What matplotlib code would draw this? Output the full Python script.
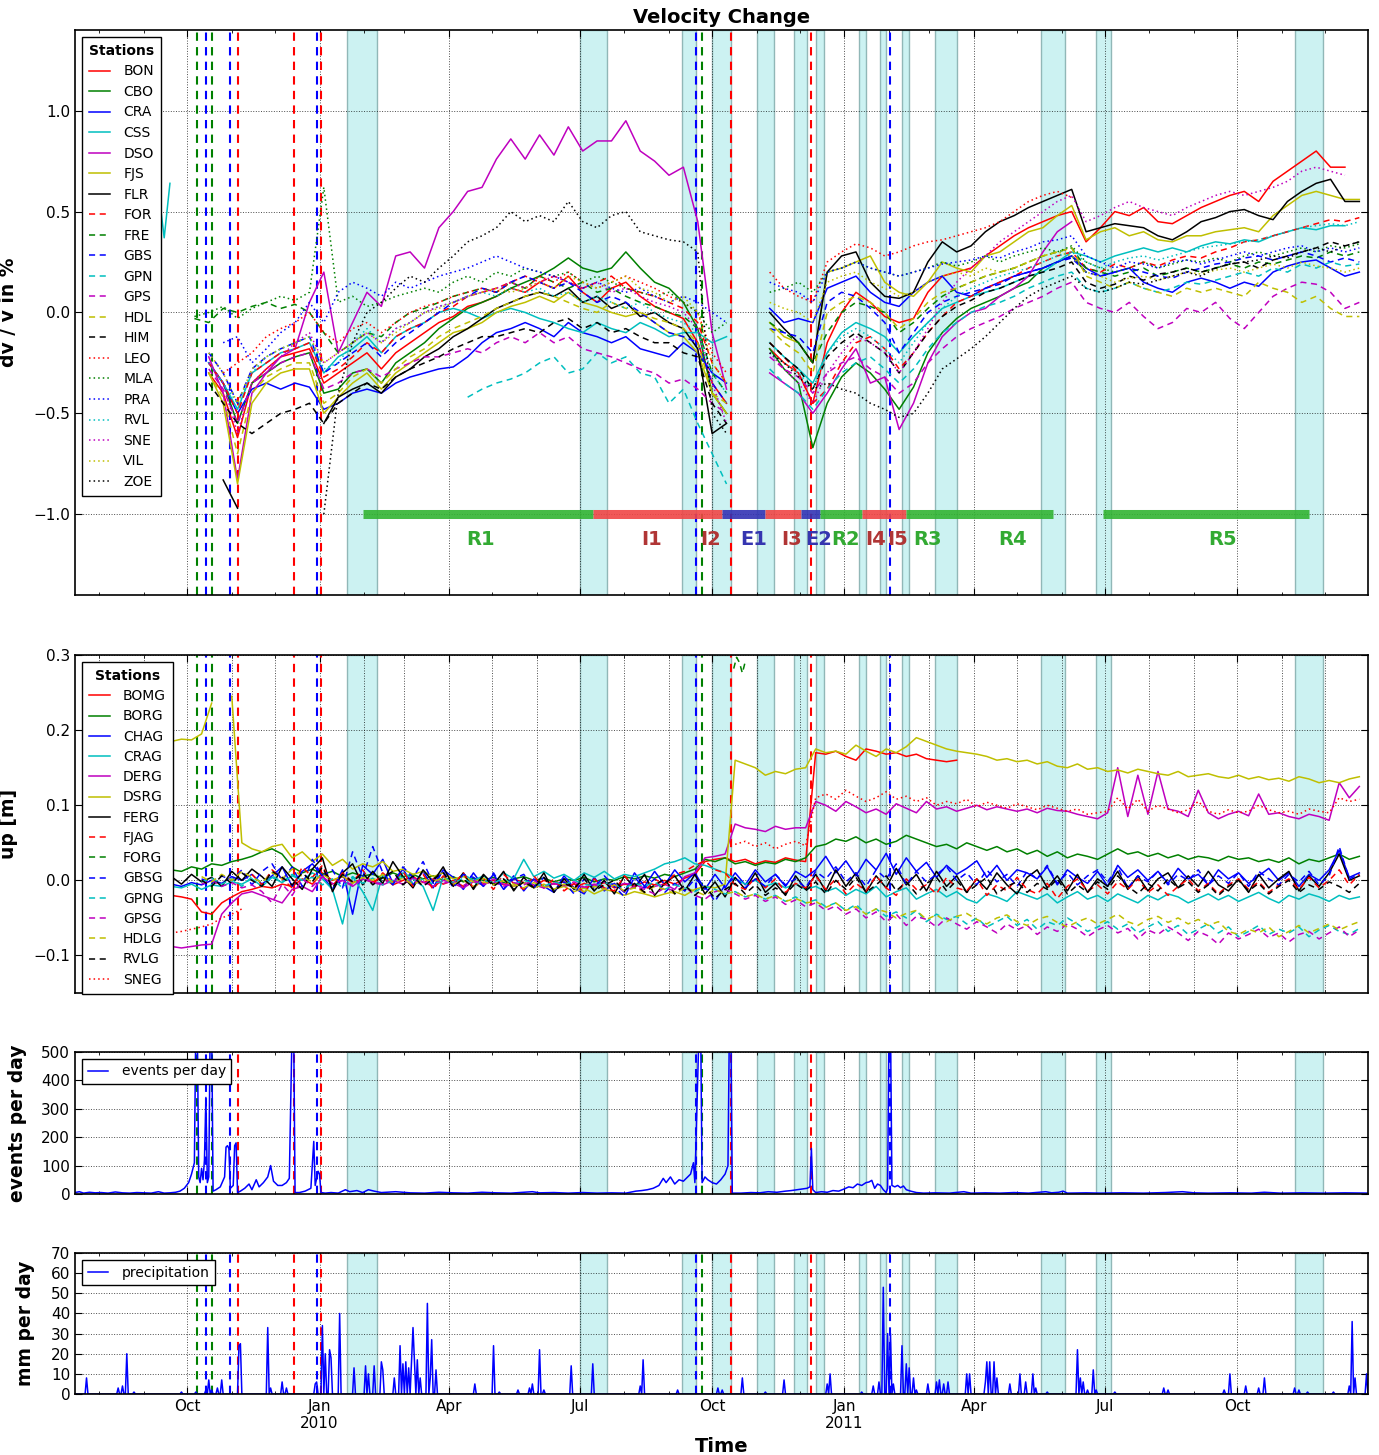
import numpy as np
import matplotlib
matplotlib.use("Agg")
import matplotlib.pyplot as plt
import matplotlib.dates as mdates
from matplotlib.ticker import FuncFormatter

nan = np.nan
t0 = np.datetime64("2009-10-01")

# sampling grids, in days after 2009-10-01
dv_days = np.arange(-15, 825, 10)
gps_days = np.arange(-11, 820, 7)

# ---------------- dv/v (units of 0.01 %) ----------------
bon = [nan, nan, nan, -30, -40, -62, -35, -28, -22, -20,
       -18, -35, -30, -25, -20, -28, -20, -15, -10, -5,
       -2, 3, 5, 8, 12, 10, 15, 12, 18, 10,
       5, 12, 15, 8, 3, 0, -3, -15, -35, -45,
       nan, nan, -18, -25, -30, -45, -15, 0, 10, 5,
       -2, -5, -3, 10, 18, 20, 22, 28, 33, 38,
       42, 45, 48, 50, 35, 42, 50, 48, 52, 45,
       44, 48, 52, 55, 58, 60, 55, 65, 70, 75,
       80, 72, 72, nan]
cbo = [nan, nan, nan, -25, -35, -55, -35, -30, -25, -22,
       -20, -40, -38, -30, -28, -35, -25, -20, -15, -8,
       -3, 2, 5, 8, 12, 15, 18, 22, 27, 22,
       20, 22, 30, 22, 15, 12, 5, -8, -40, -50,
       nan, nan, -18, -28, -35, -67, -45, -32, -25, -30,
       -38, -48, -37, -20, -10, -3, 2, 5, 8, 12,
       15, 22, 25, 28, 20]
cra = [3, nan, nan, -25, -35, -50, -38, -35, -38, -35,
       -37, -48, -45, -40, -38, -40, -35, -32, -30, -28,
       -27, -22, -15, -10, -8, -5, -8, -12, -5, -10,
       -12, -15, -12, -18, -20, -22, -15, -20, -30, -35,
       nan, nan, 2, -5, -3, -5, 12, 15, 18, 10,
       5, 3, 10, 15, 18, 10, 8, 12, 15, 18,
       20, 22, 25, 28, 22, 18, 20, 22, 15, 12,
       10, 15, 17, 15, 12, 15, 13, 20, 23, 25,
       26, 22, 18, 20]
css = [nan, nan, nan, -25, -35, -48, -30, -25, -20, -18,
       -15, -30, -22, -18, -12, -20, -12, -8, -5, 0,
       2, 0, -3, 0, 2, 0, -3, -5, -8, -10,
       -5, -8, -10, -5, -8, -12, -10, -10, -15, -12,
       nan, nan, -15, -22, -28, -35, -20, -10, -5, -8,
       -12, -20, -12, -5, 2, 5, 8, 10, 12, 15,
       18, 20, 25, 30, 28, 25, 28, 30, 32, 30,
       32, 30, 33, 35, 34, 36, 35, 38, 40, 42,
       41, 43, 43, nan]
css_early_days = [-19, -16, -12]
css_early = [55, 37, 64]
dso = [-5, nan, nan, -22, -40, -83, -40, -30, -22, -18,
       5, 20, -20, -5, 10, 3, 28, 30, 22, 42,
       50, 60, 62, 76, 86, 76, 88, 78, 92, 80,
       85, 85, 95, 80, 75, 68, 72, 45, -10, -38,
       nan, nan, -30, -35, -40, -50, -40, -28, -18, -35,
       -32, -58, -45, -25, -12, -5, 0, 2, 8, 12,
       18, 30, 40, 45]
fjs = [nan, nan, nan, -30, -45, -85, -45, -35, -30, -28,
       -28, -50, -42, -35, -30, -38, -30, -25, -20, -15,
       -10, -8, -5, 0, 3, 5, 8, 5, 10, 5,
       3, 0, -2, 0, -5, -10, -12, -20, -40, -50,
       nan, nan, -5, -12, -15, -25, 20, 22, 25, 28,
       15, 10, 8, 15, 25, 22, 20, 28, 30, 35,
       40, 42, 48, 53, 36, 40, 42, 38, 40, 36,
       35, 38, 38, 40, 41, 42, 40, 48, 53, 58,
       60, 58, 56, 56]
flr = [nan, nan, nan, nan, -83, -97, nan, nan, nan, nan,
       nan, -55, -42, -38, -35, -40, -32, -28, -22, -18,
       -12, -8, -3, 2, 5, 8, 10, 8, 12, 5,
       8, 2, 5, -2, 0, -5, -8, -18, -60, -55,
       nan, nan, 0, -8, -15, -25, 20, 28, 30, 15,
       8, 7, 10, 25, 35, 30, 33, 40, 45, 48,
       52, 55, 58, 61, 40, 42, 44, 43, 42, 38,
       36, 40, 45, 47, 50, 51, 48, 46, 55, 60,
       64, 66, 55, 55]
for_ = [nan, nan, nan, -25, -35, -50, -30, -25, -20, -18,
        -15, -32, -28, -22, -15, -20, -12, -8, -5, 0,
        3, 8, 10, 12, 15, 18, 15, 18, 15, 12,
        15, 18, 12, 10, 8, 5, 2, -5, -25, -35,
        nan, nan, -15, -22, -30, -45, -38, -25, -15, -12,
        -18, -28, -20, -10, -2, 5, 8, 12, 15, 18,
        22, 25, 28, 30, 22, 20, 24, 22, 25, 23,
        26, 28, 27, 30, 32, 35, 36, 38, 40, 42,
        44, 46, 45, 47]
fre = [nan, nan, -3, -5, 2, 0, 3, 5, 2, 4,
       0, -10, -20, -15, -10, -12, -5, 0, 2, 5,
       8, 10, 12, 10, 15, 12, 18, 15, 12, 15,
       10, 12, 8, 5, 3, 0, -2, -8, -30, -40,
       nan, nan, -5, -10, -15, -25, -10, 0, 5, 3,
       0, -10, -5, 2, 8, 12, 15, 18, 20, 22,
       25, 28, 30, 32, 22, 20, 18, 20, 22, 18,
       20, 22, 20, 22, 24, 22, 25, 24, 26, 28,
       27, 30, 28, 30]
gbs = [nan, nan, nan, -20, -30, -45, -28, -22, -18, -15,
       -12, -30, -25, -20, -15, -22, -15, -10, -5, 0,
       5, 8, 12, 10, 15, 18, 15, 12, 15, 10,
       5, 8, 5, 0, -5, -10, -12, -15, -35, -45,
       nan, nan, -8, -10, -12, -20, 5, 10, 8, 2,
       -5, -20, -10, 0, 5, 8, 10, 12, 14, 18,
       20, 22, 25, 27, 20, 18, 20, 22, 20, 18,
       17, 20, 22, 24, 25, 27, 28, 26, 28, 30,
       28, 25, 27, 25]
gpn = [nan] * 21 + [
       -42, -38, -35, -33, -30, -25, -22, -30, -28,
       -20, -25, -22, -30, -32, -45, -38, -55, -70, -85,
       nan, nan, -28, -35, -40, -48, -38, -30, -25, -22,
       -28, -35, -28, -18, -10, -5, 0, 3, 5, 8,
       12, 15, 18, 20, 12, 10, 12, 15, 12, 10,
       12, 15, 14, 16, 18, 20, 18, 22, 20, 24,
       22, 25, 23, 24]
gps = [nan, nan, nan, -28, -38, -55, -35, -30, -25, -22,
       -20, -38, -35, -30, -28, -32, -28, -25, -22, -22,
       -20, -18, -20, -15, -12, -15, -10, -15, -12, -18,
       -20, -22, -25, -28, -30, -35, -33, -38, -45, -50,
       nan, nan, -22, -28, -32, -40, -30, -25, -22, -28,
       -32, -40, -35, -25, -18, -12, -8, -5, -2, 2,
       5, 8, 12, 15, 5, 2, 0, 5, -2, -8,
       -5, 2, 0, 5, -3, -8, 0, 8, 12, 15,
       14, 10, 2, 5]
hdl = [nan, nan, nan, -30, -42, -70, -40, -32, -28, -25,
       -25, -45, -40, -32, -28, -35, -28, -22, -18, -12,
       -8, -5, -2, 2, 5, 8, 10, 8, 5, 2,
       0, 5, 2, 0, -3, -5, -8, -15, -40, -45,
       nan, nan, -8, -15, -20, -30, 0, 5, 8, 5,
       0, -8, -3, 5, 10, 12, 15, 18, 20, 22,
       25, 28, 30, 32, 18, 15, 12, 15, 12, 10,
       8, 12, 10, 12, 10, 8, 15, 12, 10, 5,
       8, 2, -2, -2]
him = [nan, nan, nan, -35, -45, -55, -60, -55, -50, -48,
       -45, -55, -45, -40, -35, -38, -32, -28, -25, -22,
       -18, -15, -12, -12, -10, -8, -10, -5, -3, -8,
       -5, -10, -8, -12, -15, -15, -20, -22, -45, -55,
       nan, nan, -15, -22, -28, -38, -22, -15, -10, -15,
       -20, -30, -20, -10, -2, 3, 6, 10, 12, 15,
       18, 20, 22, 25, 15, 12, 14, 18, 16, 19,
       20, 22, 20, 22, 24, 25, 22, 26, 28, 30,
       32, 35, 33, 35]
leo = [nan, nan, nan, nan, -30, -25, -20, -12, -8, -5,
       0, -10, -15, -8, -5, -10, -5, 0, 3, 5,
       8, 10, 12, 10, 15, 12, 18, 15, 20, 15,
       12, 15, 18, 15, 12, 8, 5, 0, -20, -30,
       nan, nan, 20, 12, 8, 5, 25, 30, 34, 32,
       28, 30, 33, 35, 36, 38, 40, 42, 45, 50,
       55, 58, 60, 57]
mla = [nan, nan, -2, 0, 3, -3, 2, 5, 8, 6,
       10, 62, 5, 8, 3, 5, 8, 10, 12, 10,
       15, 18, 15, 20, 18, 22, 20, 18, 20, 15,
       18, 15, 12, 10, 8, 10, 5, 0, -10, -5,
       nan, nan, 10, 12, 15, 10, 20, 22, 25, 22,
       20, 18, 20, 22, 25, 23, 25, 28, 25, 28,
       30, 32, 30, 33, 25, 22, 20, 22, 25, 22,
       24, 26, 25, 27, 25, 28, 30, 28, 30, 32,
       30, 33, 32, 34]
pra = [nan, nan, nan, nan, -15, -12, -25, -18, -10, -5,
       5, -5, 10, 15, 12, 8, 15, 12, 15, 18,
       20, 22, 25, 28, 25, 22, 20, 18, 15, 12,
       15, 12, 10, 12, 8, 5, 8, 5, 0, -5,
       nan, nan, 15, 12, 10, 5, 20, 22, 25, 22,
       20, 18, 20, 22, 24, 25, 26, 28, 27, 30,
       32, 35, 36, 38, 28, 25, 22, 25, 24, 22,
       25, 26, 24, 26, 28, 30, 28, 30, 32, 33,
       30, 32, 30, 32]
rvl = [nan, nan, nan, -25, -35, -45, -30, -22, -18, -15,
       -12, -28, -25, -15, -8, -15, -8, -5, 0, 3,
       5, 8, 10, 8, 12, 10, 12, 8, 10, 5,
       8, 5, 2, 5, 0, -3, -5, -10, -30, -40,
       nan, nan, -20, -25, -30, -38, -20, -12, -8, -12,
       -18, -25, -15, -5, 2, 8, 12, 15, 18, 20,
       22, 25, 28, 30, 25, 22, 25, 27, 28, 26,
       28, 30, 32, 33, 34, 35, 36, 38, 40, 42,
       43, 44, 43, 45]
sne = [nan, nan, nan, -25, -35, -60, -35, -28, -22, -15,
       -10, -25, -20, -15, -10, -15, -8, -5, 0, 3,
       5, 8, 10, 12, 15, 12, 15, 18, 15, 12,
       15, 10, 12, 8, 5, 3, 0, -8, -35, -55,
       nan, nan, -20, -28, -35, -45, -30, -20, -12, -15,
       -20, -30, -20, -8, 5, 15, 22, 28, 35, 40,
       45, 50, 55, 58, 45, 48, 52, 55, 52, 50,
       48, 52, 55, 58, 60, 58, 60, 62, 65, 70,
       72, 70, 68, nan]
vil = [nan, nan, nan, -20, -30, -45, -28, -22, -18, -15,
       -12, -25, -20, -15, -10, -15, -10, -5, 0, 2,
       5, 8, 10, 12, 10, 12, 15, 12, 18, 15,
       12, 15, 18, 12, 10, 5, 8, 0, -25, -35,
       nan, nan, 5, 2, 0, -5, 15, 18, 20, 15,
       12, 8, 10, 15, 18, 20, 18, 22, 20, 22,
       25, 28, 30, 28, 20, 18, 15, 17, 18, 16,
       18, 20, 19, 21, 22, 20, 22, 24, 22, 25,
       23, 22, 20, 22]
zoe = [nan] * 11 + [
       -100, -40, -15, 0, 5, 12, 18, 15, 22,
       28, 35, 38, 42, 50, 45, 48, 45, 55, 45,
       42, 48, 50, 40, 38, 36, 35, 30, -50, -60,
       nan, nan, -20, -25, -32, -38, -35, -38, -40, -45,
       -48, -52, -50, -40, -28, -23, -18, -12, -5, 2,
       8, 12, 15, 18, 12, 10, 12, 15, 14, 16,
       18, 20, 18, 22, 24, 25, 26, 28, 27, 30,
       32, 30, 33, 35]

dv_names = ["BON", "CBO", "CRA", "CSS", "DSO", "FJS", "FLR",
            "FOR", "FRE", "GBS", "GPN", "GPS", "HDL", "HIM",
            "LEO", "MLA", "PRA", "RVL", "SNE", "VIL", "ZOE"]
dv_data = [bon, cbo, cra, css, dso, fjs, flr,
           for_, fre, gbs, gpn, gps, hdl, him,
           leo, mla, pra, rvl, sne, vil, zoe]

# ---------------- GPS vertical (units of mm) ----------------
bomg = [-20, -22, -25, -42, -45, -30, -22, -15, -12, -8,
        -10, -5, -8, 2, -5, 10, 0, 5, -3, 2,
        -2, 4, -6, 0, 5, -3, 2, -5, 0, -8,
        3, -4, 0, -6, 2, -3, -8, 0, -5, -2,
        -10, -4, -8, -3, -10, -5, -8, -2, -6, 0,
        -5, 3, 8, 25, 28, 30, 25, 28, 22, 26,
        24, 30, 27, 25, 170, 168, 172, 165, 160, 175,
        172, 168, 170, 165, 168, 162, 160, 158, 160]
borg = [14, 12, 18, 15, 22, 20, 25, 28, 32, 38,
        42, 35, 18, 10, 15, 8, 12, 5, 10, 6,
        8, 3, 10, 5, 8, 2, 6, 0, 5, -2,
        3, 0, 4, -3, 2, 5, 0, 3, -2, 2,
        0, 4, -2, 2, 0, 5, 2, 6, 3, 8,
        5, 10, 15, 28, 25, 30, 22, 25, 20, 24,
        22, 28, 25, 30, 45, 48, 55, 52, 58, 50,
        55, 48, 52, 60, 55, 50, 45, 48, 42, 50,
        45, 40, 45, 38, 42, 35, 40, 32, 38, 30,
        35, 32, 28, 35, 42, 35, 38, 32, 36, 30,
        34, 28, 32, 30, 26, 32, 28, 30, 25, 28,
        24, 30, 22, 28, 25, 30, 35, 28, 32]
chag = [-5, -8, -3, -6, 0, -4, 5, 0, 8, -5,
        6, 18, -8, 12, 22, 6, -12, 14, -45, 20,
        8, 28, -4, 15, -6, 12, -10, 14, 4, -12,
        10, -8, 8, -12, 6, -14, 2, -8, -16, 6,
        -10, -18, 4, -14, -4, -16, 10, -8, 12, -6,
        14, -2, 10, -12, 8, -10, 10, -6, 14, -2,
        8, -8, 12, 4, 14, 32, 10, 26, 6, 28,
        14, 36, 8, 30, 12, 24, 4, 20, 8, 16,
        26, 4, 20, 0, 14, 10, 2, 18, -6, 14,
        4, -4, 12, -8, 20, 4, 14, 0, 12, -4,
        16, 2, 8, -6, 14, 2, 10, -4, 6, 16,
        0, 10, -8, 8, 0, 14, 40, 4, 10]
crag = [-8, -10, -5, -12, -6, -8, -2, -5, 2, -8,
        4, -3, 6, 0, 10, 2, -12, -58, 5, -15,
        -40, 8, -5, 10, 2, -8, -40, 5, -3, 8,
        0, 6, -4, 10, 2, 28, 5, 12, 3, 8,
        0, 10, 4, 12, 2, 8, 5, 10, 15, 22,
        25, 30, 22, 20, 15, 10, 2, -5, 0, -8,
        -3, -10, -5, -12, -8, -15, -10, -20, -12, -18,
        -8, -22, -15, -10, -25, -18, -12, -22, -15, -25,
        -30, -18, -22, -28, -15, -20, -25, -18, -30, -22,
        -15, -25, -20, -28, -18, -24, -30, -20, -26, -18,
        -22, -30, -24, -18, -26, -20, -28, -22, -16, -24,
        -30, -20, -25, -18, -22, -28, -20, -25, -22]
derg = [-88, -90, -88, -86, -85, -45, -30, -18, -15, -20,
        -25, -30, -12, -8, -15, 5, -5, 0, -8, 2,
        -3, -6, 0, -5, 3, -2, -8, 0, -4, -10,
        -2, -6, 2, -5, -8, -3, -6, -10, -4, -8,
        -5, -10, -6, -2, -8, -4, -6, -10, -8, -5,
        -12, 5, 10, 30, 32, 35, 75, 70, 68, 65,
        72, 68, 70, 70, 105, 100, 92, 105, 98, 90,
        95, 88, 102, 96, 90, 105, 95, 98, 92, 96,
        100, 94, 98, 95, 92, 95, 90, 96, 93, 92,
        88, 85, 82, 90, 150, 85, 140, 88, 145, 95,
        92, 85, 120, 90, 82, 88, 92, 86, 115, 88,
        90, 85, 82, 88, 85, 80, 130, 110, 125]
dsrg = [185, 188, 187, 195, 236, nan, 245, 50, 42, 38,
        45, 48, 30, 38, 25, 35, 20, 28, 15, 22,
        18, 25, 12, 15, 8, 12, 5, 10, 2, 5,
        -2, 3, -5, 0, -8, -3, -10, -5, -12, -8,
        -15, -10, -18, -12, -15, -20, -15, -18, -22, -18,
        -15, -20, -12, -8, -10, -5, 160, 155, 150, 140,
        145, 142, 148, 150, 175, 170, 172, 168, 180, 172,
        165, 175, 170, 178, 190, 185, 180, 175, 172, 170,
        168, 165, 160, 162, 158, 160, 155, 158, 152, 150,
        155, 148, 150, 145, 147, 143, 148, 145, 142, 140,
        145, 138, 140, 142, 138, 136, 140, 135, 138, 134,
        136, 132, 138, 135, 130, 133, 130, 135, 138]
ferg = [5, -5, 8, -2, 4, -8, 12, 0, 15, 5,
        -8, 18, 2, -12, 15, 30, -15, 10, 22, -6,
        12, -4, 25, 5, -10, 14, -2, 18, -8, 10,
        -12, 8, -6, 12, -14, 4, -10, 10, -16, 2,
        -12, 8, -14, 0, -18, 6, -10, 8, -20, -4,
        6, -14, 8, -18, -2, -22, 4, -12, 10, -16,
        -4, -20, 6, -12, 8, -14, 14, -8, 10, -16,
        6, -10, 16, -6, 8, -14, 12, -8, 6, -16,
        2, -12, 10, -6, -18, 4, 14, -10, 6, -14,
        8, -16, 2, -8, 12, -12, 6, -14, 2, 10,
        -10, 6, -8, 12, -6, -14, 2, -16, 8, -10,
        2, 12, -14, 6, -8, 10, 35, 0, 6]
fjag = [nan] * 8 + [
        8, -6,
        14, 2, -10, 18, 4, 20, -8, 10, -2, 14,
        -6, 10, -2, 12, -8, 8, -12, 6, -6, 10,
        -10, 2, -12, 8, -4, -12, 6, -10, 2, -14,
        -4, -16, 2, -10, -14, 6, -8, -16, 2, -6,
        8, 12, 20, 26, 14, 10, -6, -12, 4, -10,
        2, -16, -4, -10, 6, -12, 2, -18, -4, -14,
        6, -10, -20, 2, -12, -6, -18, 4, -10, -14,
        2, -20, -6, -14, 4, -12, -18, -4, -24, -8,
        2, -14, -6, -18, -2, -12, 2, -16, -6, -20,
        -8, 2, -14, -4, -18, -6, 2, -12, -2, -16,
        -6, 2, -12, 4, -10, 0, 14, -6, 8]
forg_days = [380, 382, 384, 386, 388]
forg = [282, 297, 290, 276, 291]
gbsg = [nan] * 3 + [
        2, -4, 6, 0, 14, -6, 12,
        22, 0, 18, -8, 28, 6, 14, -10, 38, 4,
        45, 10, -6, 18, 4, 25, -4, 12, -10, 8,
        4, -8, 10, -12, 2, 8, -10, 4, -14, -2,
        -18, 2, -10, 6, -8, -22, 4, -10, 2, -16,
        -4, -14, 2, -8, -28, -6, 4, -10, 2, -8,
        8, -6, 2, -10, 12, 2, 18, -2, 10, -8,
        14, 2, 22, -6, 12, -2, 8, 18, 0, 10,
        -6, 14, -2, 8, -8, 12, 2, 20, -4, 10,
        -6, 6, 14, -2, 18, -10, 6, -2, 12, -6,
        8, 0, 14, -6, 6, -4, 10, -8, 12, 2,
        -6, 8, -2, 12, -6, 6, 45, 2, 8]
gpng = [nan] * 3 + [
        -2, 3, -5, 2, -8, 5, -3,
        6, -2, 8, 0, 4, -6, 2, -10, 5, -4,
        3, -6, 0, 4, -3, 2, -5, 0, -4, 3,
        -6, 0, -3, 2, -5, 0, -4, -8, -2, -6,
        0, -5, -8, -3, -6, -10, -4, -8, -2, -12,
        -6, -10, -15, -8, -12, -18, -15, -22, -18, -25,
        -20, -28, -22, -30, -26, -35, -30, -40, -32, -45,
        -38, -48, -42, -50, -40, -55, -45, -52, -48, -58,
        -50, -62, -55, -48, -60, -52, -65, -55, -60, -50,
        -58, -68, -62, -55, -65, -58, -70, -62, -55, -68,
        -60, -72, -65, -58, -70, -62, -75, -68, -60, -72,
        -65, -70, -62, -75, -66, -60, -68, -72, -64]
gpsg = [nan] * 3 + [
        -5, 0, -8, -3, -10, -6, -15,
        -30, -5, -20, 2, -8, 5, -4, 0, -6, 3,
        -2, -5, 4, -3, 0, -6, 2, -4, -1, -7,
        0, -5, -2, -8, -3, -6, 0, -10, -4, -7,
        -2, -9, -5, -12, -6, -15, -8, -12, -18, -10,
        -14, -8, -20, -25, -15, -12, -18, -25, -20, -28,
        -22, -32, -26, -35, -30, -40, -34, -45, -38, -50,
        -42, -55, -45, -60, -48, -52, -62, -50, -58, -65,
        -55, -62, -70, -58, -66, -60, -72, -62, -68, -58,
        -65, -75, -66, -60, -70, -64, -78, -66, -72, -62,
        -70, -80, -68, -74, -85, -70, -78, -72, -65, -76,
        -70, -82, -72, -68, -78, -70, -62, -75, -66]
hdlg = [nan] * 3 + [
        5, -2, 8, 0, 12, 4, -3,
        10, 2, 15, 5, -2, 8, 0, 6, -4, 4,
        0, 8, -3, 3, -6, 2, -2, 4, -5, 0,
        -8, -2, -6, 0, -5, -10, -3, -8, -12, -5,
        -10, -15, -8, -12, -6, -14, -10, -16, -8, -12,
        -18, -10, -14, -20, -12, -18, -15, -22, -18, -25,
        -20, -28, -24, -30, -28, -36, -30, -40, -35, -45,
        -38, -42, -50, -44, -40, -52, -46, -55, -48, -44,
        -52, -58, -50, -46, -55, -60, -52, -48, -56, -62,
        -55, -50, -58, -52, -45, -55, -60, -52, -48, -56,
        -50, -58, -52, -60, -55, -68, -72, -65, -70, -62,
        -75, -68, -60, -70, -64, -58, -66, -60, -55]
rvlg = [nan] * 3 + [
        0, -8, 6, -4, 10, 0, -8,
        12, 4, -6, 10, -2, 18, -10, 8, -2, 10,
        -6, 4, 12, -6, 6, -8, 2, 10, -8, 2,
        -10, 6, -8, 2, -12, -2, -10, 4, -14, -4,
        -10, 2, -14, -6, 0, -14, -4, -16, -6, 2,
        -18, -6, -20, -8, -24, -12, -4, -18, -6, -20,
        -10, -18, -4, -14, -2, -18, 0, -12, 4, -16,
        -6, 6, -14, -2, -18, -4, 4, -14, 0, -16,
        -6, 4, -18, -8, -2, -16, -4, -12, 2, -18,
        -6, -16, -2, -12, 6, -8, -18, -4, -14, 2,
        -10, -2, -16, -6, -20, -8, 0, -14, -4, -18,
        -8, 0, -16, -6, -12, -2, -8, -16, -4]
sneg = [-70, -68, -65, -62, -58, -50, -45, -38] + [nan] * 48 + [
        48, 52, 45, 50,
        42, 48, 52, 46, 110, 115, 108, 120, 112, 105,
        110, 118, 108, 112, 105, 110, 100, 105, 102, 108,
        98, 104, 100, 96, 102, 98, 94, 100, 96, 92,
        95, 88, 90, 92, 110, 95, 108, 92, 100, 95,
        90, 94, 105, 92, 88, 94, 90, 92, 100, 94,
        90, 92, 88, 95, 92, 90, 110, 105, 108]

gps_names = ["BOMG", "BORG", "CHAG", "CRAG", "DERG", "DSRG", "FERG",
             "FJAG", "FORG", "GBSG", "GPNG", "GPSG", "HDLG", "RVLG", "SNEG"]
gps_data = [bomg, borg, chag, crag, derg, dsrg, ferg,
            fjag, forg, gbsg, gpng, gpsg, hdlg, rvlg, sneg]

# ---------------- seismicity (events per day) ----------------
ev_days = [-78, -75, -72, -68, -64, -60, -55, -50, -45, -40,
           -35, -30, -25, -20, -16, -12, -8, -5, -2, 1,
           3, 5, 6, 7, 8, 9, 10, 11, 12, 13,
           14, 15, 16, 17, 18, 20, 23, 26, 27, 28,
           29, 30, 32, 33, 34, 35, 37, 40, 43, 45,
           48, 50, 53, 56, 58, 60, 63, 66, 69, 71,
           73, 74, 75, 78, 82, 86, 88, 89, 91, 92,
           93, 96, 100, 105, 110, 113, 118, 122, 126, 130,
           135, 145, 155, 165, 175, 185, 195, 205, 215, 225,
           240, 245, 255, 265, 275, 285, 295, 305, 312, 316,
           320, 324, 328, 331, 333, 336, 339, 342, 345, 348,
           350, 352, 353, 356, 357, 358, 360, 362, 365, 368,
           371, 374, 376, 377, 378, 379, 385, 392, 398, 404,
           410, 416, 420, 424, 428, 431, 433, 434, 435, 437,
           441, 445, 449, 453, 457, 460, 463, 466, 469, 472,
           474, 476, 478, 480, 482, 484, 486, 487, 488, 489,
           490, 492, 494, 496, 498, 500, 503, 507, 512, 520,
           530, 540, 545, 555, 565, 575, 585, 597, 601, 606,
           609, 612, 625, 635, 650, 665, 680, 692, 696, 700,
           710, 725, 740, 749, 760, 775, 790, 805, 822]
ev_counts = [5, 8, 3, 6, 4, 5, 3, 7, 4, 3,
             5, 4, 3, 8, 3, 4, 6, 10, 20, 40,
             70, 110, 600, 600, 60, 40, 90, 50, 120, 340,
             40, 60, 600, 600, 10, 15, 25, 60, 165, 170,
             160, 20, 30, 170, 180, 5, 10, 20, 35, 15,
             50, 25, 40, 60, 100, 45, 30, 30, 40, 55,
             600, 600, 5, 5, 10, 20, 185, 30, 80, 70,
             5, 3, 5, 3, 15, 8, 12, 5, 15, 10,
             5, 8, 4, 3, 6, 4, 3, 6, 4, 3,
             8, 4, 5, 3, 5, 3, 4, 3, 10, 12,
             15, 20, 30, 55, 40, 60, 35, 50, 45, 60,
             70, 110, 40, 600, 600, 40, 60, 50, 40, 35,
             50, 70, 100, 600, 600, 3, 3, 5, 4, 8,
             6, 10, 12, 15, 18, 20, 25, 160, 15, 5,
             8, 6, 12, 10, 18, 25, 22, 35, 30, 40,
             42, 48, 20, 35, 30, 15, 5, 20, 600, 600,
             30, 25, 30, 22, 28, 15, 10, 5, 3, 4,
             3, 8, 3, 4, 3, 5, 3, 8, 4, 6,
             10, 3, 4, 3, 4, 3, 5, 8, 6, 4,
             3, 4, 3, 6, 3, 4, 3, 4, 3]

# ---------------- precipitation (rainy days, mm) ----------------
rain_days = [-70, -48, -45, -42, -37, -4, 6, 13, 15, 17,
             21, 24, 36, 37, 56, 58, 66, 69, 89, 90,
             94, 96, 99, 100, 106, 116, 124, 126, 130, 135,
             136, 144, 148, 150, 152, 154, 156, 157, 158, 160,
             162, 167, 169, 170, 173, 200, 213, 217, 230, 238,
             240, 245, 248, 267, 282, 315, 317, 341, 369, 372,
             386, 402, 415, 445, 447, 469, 477, 481, 484, 487,
             489, 491, 497, 500, 502, 505, 507, 515, 521, 523,
             526, 529, 542, 544, 555, 556, 558, 561, 563, 572,
             579, 583, 588, 590, 598, 619, 621, 623, 626, 630,
             632, 645, 679, 682, 721, 725, 736, 745, 749, 770,
             773, 779, 797, 808, 810, 812, 820]
rain_mm = [8, 3, 4, 20, 1, 1, 1, 2, 7, 2,
           3, 7, 24, 25, 33, 3, 6, 3, 5, 6,
           34, 20, 22, 18, 40, 13, 14, 10, 14, 16,
           12, 8, 24, 15, 16, 13, 17, 33, 16, 17,
           8, 45, 8, 27, 12, 5, 24, 1, 2, 3,
           5, 22, 2, 14, 15, 4, 17, 2, 3, 2,
           8, 1, 7, 5, 10, 1, 4, 6, 53, 30,
           30, 5, 24, 15, 13, 8, 2, 5, 6, 7,
           5, 6, 10, 10, 6, 16, 16, 16, 8, 5,
           10, 6, 10, 3, 1, 22, 8, 6, 2, 12,
           2, 1, 3, 2, 2, 10, 4, 3, 8, 3,
           2, 1, 1, 4, 36, 8, 10]

# ---------------- annotations ----------------
span_start = [111, 273, 344, 365, 396, 422, 437, 467, 482, 497, 520, 594, 632, 770]
span_end = [132, 292, 354, 378, 408, 431, 443, 472, 486, 502, 535, 610, 642, 790]
quake_days = [7, 13, 17, 30, 35, 74, 90, 93, 354, 358, 378, 434, 489]
quake_colors = ["g", "b", "g", "b", "r", "r", "b", "r", "b", "g", "r", "r", "b"]
phase_start = [122, 282, 372, 402, 427, 440, 469, 500, 637]
phase_end = [282, 372, 402, 427, 440, 469, 500, 602, 780]
phase_colors = ["#33b433", "#f04646", "#3333b4", "#f04646", "#3333b4",
                "#33b433", "#f04646", "#33b433", "#33b433"]
label_names = ["R1", "I1", "I2", "E1", "I3", "E2", "R2", "I4", "I5", "R3", "R4", "R5"]
label_days = [204, 323, 364, 394, 420, 439, 458, 479, 494, 515, 574, 720]
label_colors = ["#33aa33", "#b03535", "#b03535", "#3535b0", "#b03535", "#3535b0",
                "#33aa33", "#b03535", "#b03535", "#33aa33", "#33aa33", "#33aa33"]


def to_num(days):
    d = t0 + np.asarray(days).astype(int).astype("timedelta64[D]")
    return mdates.date2num(d)


def fill(vals, n):
    a = np.full(n, np.nan)
    v = np.asarray(vals, dtype=float)[:n]
    a[:len(v)] = v
    return a


def month_fmt(x, pos=None):
    d = mdates.num2date(x)
    lab = d.strftime("%b")
    if d.month == 1:
        lab += "\n%d" % d.year
    return lab


plt.rcParams["font.family"] = ["DejaVu Sans"]
plt.rcParams["xtick.direction"] = "in"
plt.rcParams["ytick.direction"] = "in"
plt.rcParams["xtick.top"] = True
plt.rcParams["ytick.right"] = True
plt.rcParams["xtick.labelsize"] = 11
plt.rcParams["ytick.labelsize"] = 11
plt.rcParams["axes.linewidth"] = 1.2

DASH = (0, (4, 3))
DOT = (0, (1, 2))
cols = ["r", "g", "b", "c", "m", "y", "k"]

fig = plt.figure(figsize=(13.79, 14.55), dpi=100)
ax1 = fig.add_axes([0.0544, 0.5911, 0.9376, 0.3883])
ax2 = fig.add_axes([0.0544, 0.3175, 0.9376, 0.2323])
ax3 = fig.add_axes([0.0544, 0.1794, 0.9376, 0.0976])
ax4 = fig.add_axes([0.0544, 0.0419, 0.9376, 0.0969])
axes = [ax1, ax2, ax3, ax4]

xmin = mdates.date2num(np.datetime64("2009-07-15"))
xmax = mdates.date2num(np.datetime64("2011-12-31"))

for ax in axes:
    for s, e in zip(span_start, span_end):
        ax.axvspan(to_num([s])[0], to_num([e])[0], facecolor=(0, 0.75, 0.75, 0.2),
                   edgecolor=(0.35, 0.55, 0.55, 0.6), lw=1.0, zorder=0.5)
    for d, c in zip(quake_days, quake_colors):
        ax.axvline(to_num([d])[0], color=c, ls=DASH, lw=1.5, zorder=1.8)
    ax.set_xlim(xmin, xmax)
    ax.xaxis.set_major_locator(mdates.MonthLocator(bymonth=[1, 4, 7, 10]))
    ax.xaxis.set_minor_locator(mdates.MonthLocator())
    ax.xaxis.set_major_formatter(FuncFormatter(month_fmt))
    ax.grid(True, which="major", ls=":", color="k", lw=0.7, alpha=0.7)
    ax.tick_params(which="major", length=5)
    ax.tick_params(which="minor", length=2.5)
    if ax is not ax4:
        ax.tick_params(labelbottom=False)

# velocity change
x_dv = to_num(dv_days)
for k, (name, vals) in enumerate(zip(dv_names, dv_data)):
    ls = ["-", DASH, DOT][k // 7]
    ax1.plot(x_dv, fill(vals, len(dv_days)) / 100.0, color=cols[k % 7], ls=ls, lw=1.1, label=name)
ax1.plot(to_num(css_early_days), np.array(css_early) / 100.0, color="c", lw=1.1)

for s, e, c in zip(phase_start, phase_end, phase_colors):
    ax1.plot(to_num([s, e]), [-1.0, -1.0], color=c, lw=6.5, solid_capstyle="butt", alpha=0.9, zorder=3)
for name, d, c in zip(label_names, label_days, label_colors):
    ax1.text(to_num([d])[0], -1.124, name, color=c, fontsize=14, fontweight="bold",
             ha="center", va="center")

ax1.set_ylim(-1.4, 1.4)
ax1.set_yticks([-1.0, -0.5, 0.0, 0.5, 1.0])
ax1.set_ylabel("dv / v in %", fontsize=13.5, fontweight="bold")
ax1.yaxis.set_label_coords(-0.044, 0.5)
ax1.set_title("Velocity Change", fontsize=14, fontweight="bold", pad=5)
leg1 = ax1.legend(loc="upper left", title="Stations", fontsize=10,
                  title_fontproperties={"weight": "bold", "size": 10},
                  fancybox=False, edgecolor="k", framealpha=1, handlelength=1.5,
                  handletextpad=0.95, labelspacing=0.47, borderpad=0.5)
leg1.get_frame().set_linewidth(1.0)

# GPS up component
x_gps = to_num(gps_days)
for k, (name, vals) in enumerate(zip(gps_names, gps_data)):
    ls = ["-", DASH, DOT][k // 7]
    if name == "FORG":
        ax2.plot(to_num(forg_days), np.array(vals) / 1000.0, color=cols[k % 7], ls=ls, lw=1.1, label=name)
    else:
        ax2.plot(x_gps, fill(vals, len(gps_days)) / 1000.0, color=cols[k % 7], ls=ls, lw=1.1, label=name)
ax2.set_ylim(-0.15, 0.3)
ax2.set_yticks([-0.1, 0.0, 0.1, 0.2, 0.3])
ax2.grid(True, which="minor", axis="x", ls=":", color="k", lw=0.7, alpha=0.7)
ax2.set_ylabel("up [m]", fontsize=13.5, fontweight="bold")
ax2.yaxis.set_label_coords(-0.044, 0.5)
leg2 = ax2.legend(loc="upper left", title="Stations", fontsize=10,
                  title_fontproperties={"weight": "bold", "size": 10},
                  fancybox=False, edgecolor="k", framealpha=1, handlelength=1.5,
                  handletextpad=0.95, labelspacing=0.45, borderpad=0.5)
leg2.get_frame().set_linewidth(1.0)

# events per day
ax3.plot(to_num(ev_days), ev_counts, color="b", lw=1.1, label="events per day")
ax3.set_ylim(0, 500)
ax3.set_yticks([0, 100, 200, 300, 400, 500])
ax3.set_ylabel("events per day", fontsize=13.5, fontweight="bold")
ax3.yaxis.set_label_coords(-0.037, 0.5)
leg3 = ax3.legend(loc="upper left", fontsize=10, fancybox=False, edgecolor="k",
                  framealpha=1, handlelength=1.5, handletextpad=0.95)
leg3.get_frame().set_linewidth(1.0)

# precipitation
rain_day_axis = np.arange(-78, 822)
rain = np.zeros(len(rain_day_axis))
rain[np.array(rain_days) + 78] = rain_mm
ax4.plot(to_num(rain_day_axis), rain, color="b", lw=1.1, label="precipitation")
ax4.set_ylim(0, 70)
ax4.set_yticks([0, 10, 20, 30, 40, 50, 60, 70])
ax4.set_ylabel("mm per day", fontsize=13.5, fontweight="bold")
ax4.yaxis.set_label_coords(-0.031, 0.5)
ax4.set_xlabel("Time", fontsize=14, fontweight="bold")
leg4 = ax4.legend(loc="upper left", fontsize=10, fancybox=False, edgecolor="k",
                  framealpha=1, handlelength=1.5, handletextpad=0.95)
leg4.get_frame().set_linewidth(1.0)

fig.savefig("out.png", dpi=100)
